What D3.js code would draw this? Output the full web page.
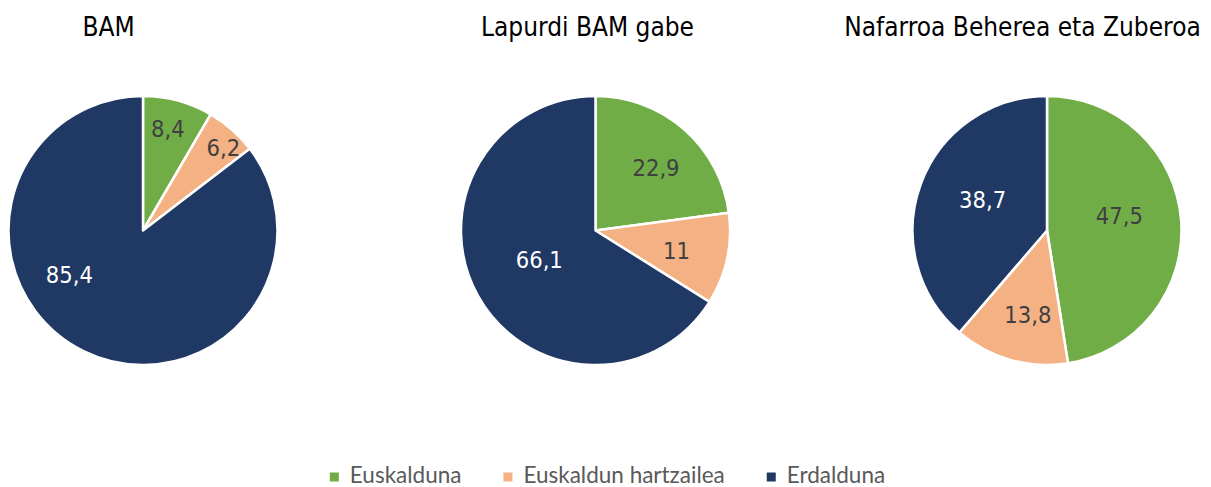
<!DOCTYPE html>
<html>
<head>
<meta charset="utf-8">
<script src="https://cdn.jsdelivr.net/npm/d3@7"></script>
<style>
    html, body { margin: 0; padding: 0; background: #fff; }
    svg { display: block; }
</style>
</head>
<body>
<svg id="chart"></svg>
<script>
// Data
const categories = ['Euskalduna', 'Euskaldun hartzailea', 'Erdalduna'];
const regions = ['BAM', 'Lapurdi BAM gabe', 'Nafarroa Beherea eta Zuberoa'];
const bamValues = [8.4, 6.2, 85.4];
const lapurdiValues = [22.9, 11, 66.1];
const nafarroaValues = [47.5, 13.8, 38.7];
const seriesValues = [bamValues, lapurdiValues, nafarroaValues];

const colors = ['#70AD47', '#F4B183', '#203864'];
const labelColors = ['#404040', '#404040', '#ffffff'];

// Layout (Excel "best fit" label placement, as radius fraction + angle nudge in degrees)
const dimensions = { width: 1211, height: 487 };
const panels = [
    { cx: 143, titleX: 108.5, labels: [[0.78, -1.4], [0.86, 2.6], [0.64, 32.6]] },
    { cx: 595.5, titleX: 587.5, labels: [[0.65, 2.6], [0.62, 1.6], [0.47, 1.8]] },
    { cx: 1047, titleX: 1022.5, labels: [[0.55, -7.5], [0.64, -3], [0.53, 5]] },
];
const pieY = 230.5;
const radius = 134.5;

const svg = d3.select('#chart')
    .attr('width', dimensions.width)
    .attr('height', dimensions.height);

const pie = d3.pie().sort(null).value((d) => d);
const arc = d3.arc().innerRadius(0).outerRadius(radius);
const fmt = (v) => String(v).replace('.', ',');

regions.forEach((name, i) => {
    const panel = panels[i];

    svg.append('text')
        .attr('x', panel.titleX)
        .attr('y', 35.5)
        .attr('text-anchor', 'middle')
        .attr('font-family', '"DejaVu Sans Condensed", "DejaVu Sans", sans-serif')
        .attr('font-stretch', 'condensed')
        .attr('font-size', 26)
        .attr('fill', '#000')
        .text(name);

    const g = svg.append('g')
        .attr('transform', `translate(${panel.cx},${pieY})`);

    const arcs = pie(seriesValues[i]);

    g.selectAll('path')
        .data(arcs)
        .join('path')
        .attr('d', arc)
        .attr('fill', (d, j) => colors[j])
        .attr('stroke', '#fff')
        .attr('stroke-width', 2.5)
        .attr('stroke-linejoin', 'round');

    g.selectAll('text')
        .data(arcs)
        .join('text')
        .attr('transform', (d, j) => {
            const [frac, nudge] = panel.labels[j];
            const a = (d.startAngle + d.endAngle) / 2 + (nudge * Math.PI) / 180;
            const r = radius * frac;
            return `translate(${r * Math.sin(a)},${-r * Math.cos(a)})`;
        })
        .attr('dy', '0.36em')
        .attr('text-anchor', 'middle')
        .attr('font-family', '"DejaVu Sans Condensed", "DejaVu Sans", sans-serif')
        .attr('font-stretch', 'condensed')
        .attr('font-size', 23.5)
        .attr('fill', (d, j) => labelColors[j])
        .text((d) => fmt(d.data));
});

// Legend
const legend = svg.append('g').attr('transform', 'translate(0,476.5)');
const items = legend.selectAll('g')
    .data(categories)
    .join('g');

items.append('rect')
    .attr('x', 0)
    .attr('y', -4)
    .attr('width', 9)
    .attr('height', 9)
    .attr('fill', (d, j) => colors[j]);

items.append('text')
    .attr('x', 20)
    .attr('dy', '0.3em')
    .attr('font-family', 'Lato, "Open Sans", sans-serif')
    .attr('font-size', 22.5)
    .attr('fill', '#595959')
    .text((d) => d);

// Lay out legend items one after another, centred under the charts
const gap = 42;
const widths = [];
items.each(function () {
    const w = 20 + d3.select(this).select('text').node().getComputedTextLength();
    widths.push(w);
});
const total = d3.sum(widths) + gap * (widths.length - 1);
let x = 607.5 - total / 2;
items.attr('transform', (d, j) => {
    const t = `translate(${x},0)`;
    x += widths[j] + gap;
    return t;
});
</script>
</body>
</html>
